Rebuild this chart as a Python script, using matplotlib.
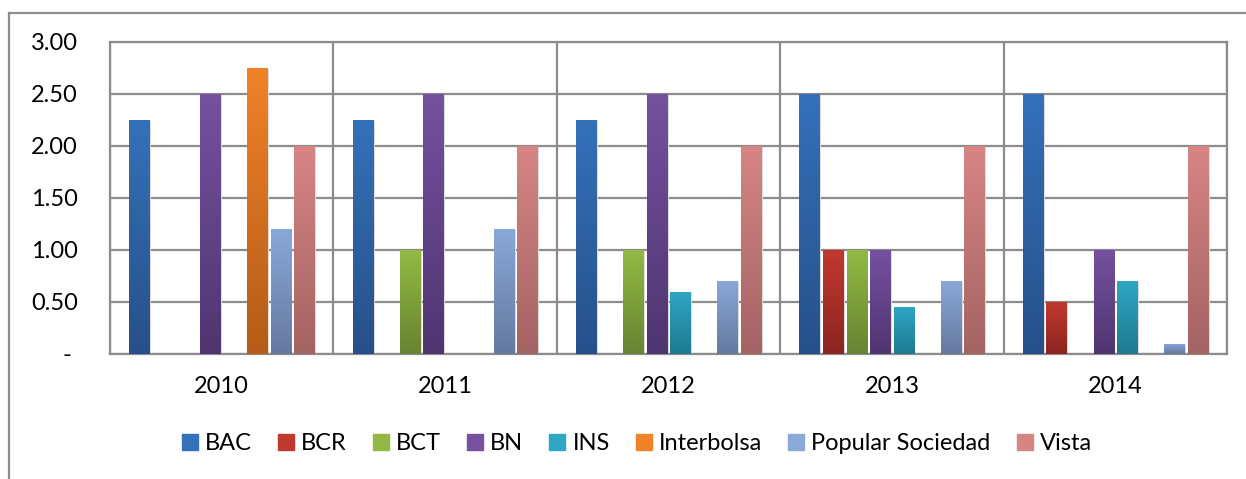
import numpy as np
import matplotlib
matplotlib.use('Agg')
import matplotlib.pyplot as plt
from matplotlib.colors import LinearSegmentedColormap
from matplotlib.lines import Line2D
from matplotlib.patches import Rectangle

plt.rcParams['font.family'] = ['Lato', 'DejaVu Sans']

years = ['2010', '2011', '2012', '2013', '2014']
series = ['BAC', 'BCR', 'BCT', 'BN', 'INS', 'Interbolsa', 'Popular Sociedad', 'Vista']

bac = [2.25, 2.25, 2.25, 2.50, 2.50]
bcr = [0, 0, 0, 1.00, 0.50]
bct = [0, 1.00, 1.00, 1.00, 0]
bn = [2.50, 2.50, 2.50, 1.00, 1.00]
ins = [0, 0, 0.60, 0.45, 0.70]
interbolsa = [2.75, 0, 0, 0, 0]
popular = [1.20, 1.20, 0.70, 0.70, 0.10]
vista = [2.00, 2.00, 2.00, 2.00, 2.00]
values = [bac, bcr, bct, bn, ins, interbolsa, popular, vista]

# top / bottom colours of the gradient
tops = ['#3571b9', '#c0392f', '#93b944', '#7551a0', '#2fa6c4', '#f08228', '#8aa8d8', '#d68584']
bottoms = ['#27508a', '#8c2421', '#678432', '#4f3570', '#1e7a90', '#b45c18', '#64799f', '#a46363']

yticks = [0, 0.5, 1.0, 1.5, 2.0, 2.5, 3.0]
ylabels = ['- ', '0.50', '1.00', '1.50', '2.00', '2.50', '3.00']

fig = plt.figure(figsize=(12.46, 4.79), dpi=100)
ax = fig.add_axes([110 / 1246, 1 - 354 / 479, 1117 / 1246, 312 / 479])

grey = '#8c8c8c'
fs = 17
x = np.arange(len(years))
slot = 23.5 / 223
width = 20 / 223

for i, name in enumerate(series):
    bars = ax.bar(x + (i - 3.5) * slot, values[i], width, label=name,
                  color=tops[i], zorder=3)
    cmap = LinearSegmentedColormap.from_list(name, [bottoms[i], tops[i]])
    grad = np.linspace(0, 1, 256).reshape(-1, 1)
    for b in bars:
        h = b.get_height()
        if h <= 0:
            continue
        x0 = b.get_x()
        # soft shadow
        ax.add_patch(Rectangle((x0 + 0.004, 0), b.get_width() + 0.004, h - 0.01,
                               color='#dcdcdc', zorder=2, lw=0))
        im = ax.imshow(grad, cmap=cmap, origin='lower', aspect='auto',
                       extent=[x0, x0 + b.get_width(), 0, h], zorder=3)
        im.set_clip_path(b)
        b.set_facecolor('none')
        b.set_edgecolor('none')

ax.set_xlim(-0.5, 4.5)
ax.set_ylim(0, 3.0)
ax.set_xticks(x)
ax.set_xticklabels(years)
ax.set_xticks(np.arange(-0.5, 5.0, 1.0), minor=True)
ax.set_yticks(yticks)
ax.set_yticklabels(ylabels)
ax.tick_params(axis='both', which='both', length=0, labelsize=fs)
ax.tick_params(axis='x', pad=16)
ax.tick_params(axis='y', pad=23)
ax.grid(axis='y', color=grey, lw=1.6, zorder=1)
ax.grid(axis='x', which='minor', color=grey, lw=1.6, zorder=1)
for s in ax.spines.values():
    s.set_color(grey)
    s.set_linewidth(1.6)

# outer chart frame
fig.add_artist(Line2D([8.5 / 1246, 8.5 / 1246], [0, 1 - 13 / 479], color=grey, lw=1.6))
fig.add_artist(Line2D([8.5 / 1246, 1], [1 - 13 / 479, 1 - 13 / 479], color=grey, lw=1.6))

handles = [Rectangle((0, 0), 1, 1, color=tops[i]) for i in range(len(series))]
fig.legend(handles, series, loc='center', bbox_to_anchor=(637 / 1246, 1 - 444 / 479),
           ncol=8, frameon=False, fontsize=fs, handlelength=0.68, handleheight=0.68,
           handletextpad=0.3, columnspacing=1.1)

fig.savefig('out.png', dpi=100)
